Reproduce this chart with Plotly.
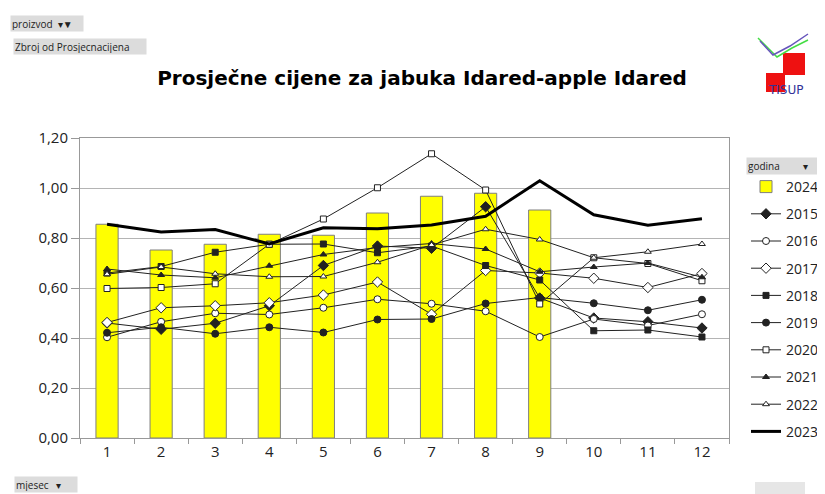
import plotly.graph_objects as go

months = ["1", "2", "3", "4", "5", "6", "7", "8", "9", "10", "11", "12"]
y_ticks = [0.0, 0.2, 0.4, 0.6, 0.8, 1.0, 1.2]

v2024 = [0.855, 0.752, 0.775, 0.815, 0.811, 0.900, 0.967, 0.979, 0.912]
v2015 = [0.460, 0.435, 0.459, 0.529, 0.690, 0.768, 0.759, 0.925, 0.560, 0.480, 0.465, 0.440]
v2016 = [0.403, 0.465, 0.499, 0.494, 0.521, 0.555, 0.537, 0.507, 0.404, 0.476, 0.450, 0.495]
v2017 = [0.462, 0.521, 0.529, 0.541, 0.572, 0.624, 0.495, 0.670, 0.660, 0.639, 0.602, 0.658]
v2018 = [0.660, 0.686, 0.743, 0.775, 0.776, 0.741, 0.768, 0.690, 0.632, 0.429, 0.432, 0.404]
v2019 = [0.421, 0.443, 0.417, 0.443, 0.422, 0.474, 0.476, 0.538, 0.562, 0.539, 0.511, 0.553]
v2020 = [0.598, 0.602, 0.617, 0.775, 0.876, 1.001, 1.137, 0.992, 0.536, 0.721, 0.698, 0.629]
v2021 = [0.676, 0.652, 0.641, 0.689, 0.734, 0.762, 0.778, 0.756, 0.665, 0.684, 0.700, 0.643]
v2022 = [0.655, 0.684, 0.657, 0.645, 0.646, 0.703, 0.772, 0.835, 0.794, 0.721, 0.745, 0.776]
v2023 = [0.855, 0.824, 0.834, 0.776, 0.841, 0.837, 0.852, 0.887, 1.029, 0.893, 0.851, 0.877]

# page geometry: the figure sits 8px in from the page's top-left (body margin)
OFF = 8
W, H = 825 - OFF, 494 - OFF
# plot-area edges in page pixels
L, R, T, B = 80, 729, 138, 438
def px(x):
    return (x - L) / (R - L)
def py(y):
    return (B - y) / (B - T)

fig = go.Figure()
fig.add_trace(go.Bar(
    x=months[:len(v2024)], y=v2024, name="2024", width=0.41,
    marker=dict(color="#FFFF00", line=dict(color="#7f7f7f", width=1)),
    legendgroup="g2024"))

LC = "#222222"
series = [
    ("2015", v2015, "diamond", LC, 8),
    ("2016", v2016, "circle", "white", 7),
    ("2017", v2017, "diamond", "white", 8),
    ("2018", v2018, "square", LC, 6),
    ("2019", v2019, "circle", LC, 7),
    ("2020", v2020, "square", "white", 6),
    ("2021", v2021, "triangle-up", LC, 6),
    ("2022", v2022, "triangle-up", "white", 6),
]
for name, vals, sym, fill, size in series:
    fig.add_trace(go.Scatter(
        x=months, y=vals, name=name, mode="lines+markers",
        line=dict(color=LC, width=1),
        marker=dict(symbol=sym, color=fill, size=size, line=dict(color=LC, width=1)),
        legendgroup="g" + name))
fig.add_trace(go.Scatter(
    x=months, y=v2023, name="2023", mode="lines",
    line=dict(color="black", width=3), legendgroup="g2023"))

FONT = "Open Sans"
btn = dict(showarrow=False, xref="paper", yref="paper", xanchor="left", yanchor="top",
           bgcolor="#dcdcdc", font=dict(family=FONT, size=10, color="#222"), align="left")
annotations = [
    dict(text="proizvod  ▾▼", x=px(10), y=py(15), width=70, height=13, **btn),
    dict(text="Zbroj od Prosjecnacijena", x=px(13), y=py(38), width=130, height=13, **btn),
    dict(text="godina         ▾", x=px(746), y=py(157), width=76, height=14, **btn),
    dict(text="mjesec   ▾", x=px(14), y=py(476), width=60, height=13, **btn),
    dict(text="TISUP", x=px(786), y=py(90), xanchor="center", yanchor="middle",
         xref="paper", yref="paper", showarrow=False,
         font=dict(family="DejaVu Sans", size=12, color="#333399")),
]

shapes = [
    # logo squares
    dict(type="rect", xref="paper", yref="paper", x0=px(783), x1=px(805), y0=py(75), y1=py(53),
         fillcolor="#ee1111", line=dict(width=0), layer="above"),
    dict(type="rect", xref="paper", yref="paper", x0=px(766), x1=px(785), y0=py(92), y1=py(73),
         fillcolor="#ee1111", line=dict(width=0), layer="above"),
    dict(type="path", xref="paper", yref="paper",
         path=f"M {px(758)} {py(38)} L {px(777)} {py(57)} L {px(792)} {py(48)} L {px(808)} {py(40)}",
         line=dict(color="#44dd44", width=1.5), layer="above"),
    dict(type="path", xref="paper", yref="paper",
         path=f"M {px(760)} {py(41)} L {px(773)} {py(55)} L {px(790)} {py(46)} L {px(808)} {py(34)}",
         line=dict(color="#6655bb", width=1.5), layer="above"),
    # bottom-right grey box
    dict(type="rect", xref="paper", yref="paper", x0=px(755), x1=px(805), y0=py(494), y1=py(482),
         fillcolor="#e6e6e6", line=dict(width=0)),
]

fig.update_layout(
    width=W, height=H,
    margin=dict(l=L - OFF, r=W - (R - OFF), t=T - OFF, b=H - (B - OFF), autoexpand=False),
    paper_bgcolor="white", plot_bgcolor="white",
    separators=", ",
    font=dict(family=FONT, size=14, color="#222"),
    title=dict(text="<b>Prosječne cijene za jabuka Idared-apple Idared</b>",
               x=(422 - OFF) / W, xanchor="center", y=1 - (78 - OFF) / H, yanchor="middle",
               font=dict(family="DejaVu Sans", size=20, color="black")),
    xaxis=dict(type="category", categoryorder="array", categoryarray=months,
               tickson="boundaries", ticks="outside", ticklen=5, tickcolor="#999",
               showgrid=False, showline=True, linecolor="#999", mirror=True,
               tickfont=dict(size=15, color="#222"), range=[-0.5, 11.5]),
    yaxis=dict(range=[0, 1.2], tickvals=y_ticks, tickformat=".2f",
               ticks="outside", ticklen=8, tickcolor="#999",
               showgrid=True, gridcolor="#b4b4b4", gridwidth=1,
               showline=True, linecolor="#999", mirror=True, zeroline=False,
               tickfont=dict(size=15, color="#222")),
    legend=dict(x=px(746), y=py(171), xanchor="left", yanchor="top",
                font=dict(family=FONT, size=14, color="#222"),
                tracegroupgap=6, itemwidth=30, bgcolor="rgba(0,0,0,0)"),
    annotations=annotations, shapes=shapes,
    bargap=0.6,
)

fig.write_html("out.html")
